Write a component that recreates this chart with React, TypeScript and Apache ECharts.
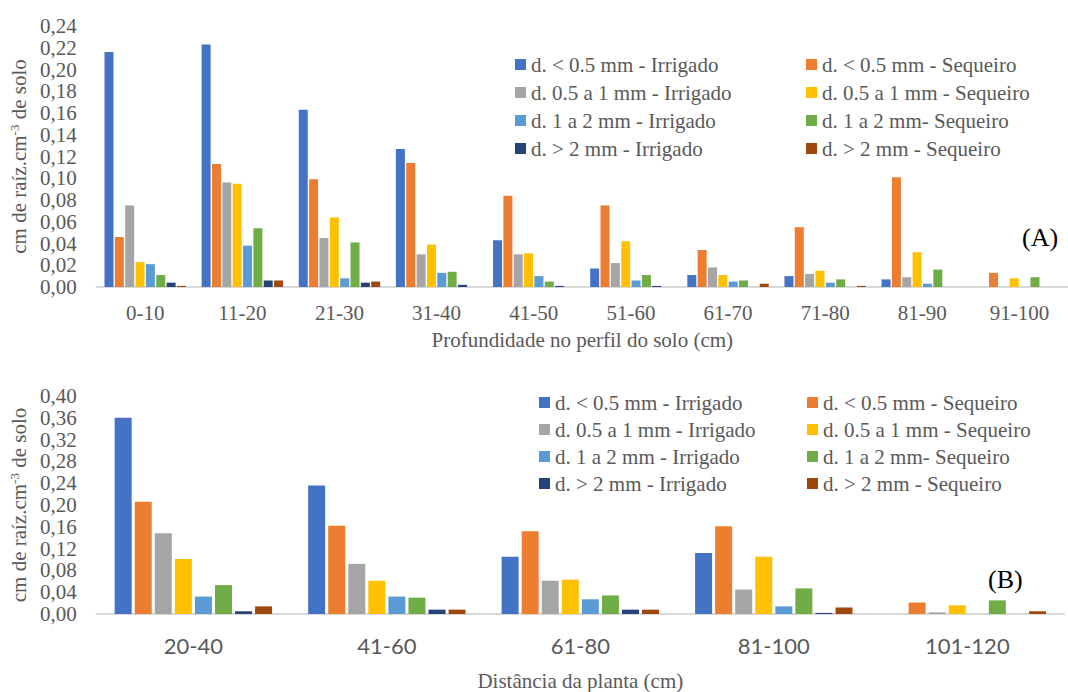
import React, { useEffect, useRef } from "react";
import * as echarts from "echarts";

const topCategories = ["0-10", "11-20", "21-30", "31-40", "41-50", "51-60", "61-70", "71-80", "81-90", "91-100"];
const bottomCategories = ["20-40", "41-60", "61-80", "81-100", "101-120"];

const seriesNames = [
  "d. < 0.5 mm - Irrigado",
  "d. < 0.5 mm - Sequeiro",
  "d. 0.5 a 1 mm - Irrigado",
  "d. 0.5 a 1 mm - Sequeiro",
  "d. 1 a 2 mm - Irrigado",
  "d. 1 a 2 mm- Sequeiro",
  "d. > 2 mm - Irrigado",
  "d. > 2 mm - Sequeiro",
];
const seriesColors = ["#4472C4", "#ED7D31", "#A5A5A5", "#FFC000", "#5B9BD5", "#70AD47", "#264478", "#9E480E"];

// Panel A: depth in soil profile
const aLt05Irr = [0.216, 0.223, 0.163, 0.127, 0.043, 0.017, 0.011, 0.010, 0.007, 0];
const aLt05Seq = [0.046, 0.113, 0.099, 0.114, 0.084, 0.075, 0.034, 0.055, 0.101, 0.013];
const a05Irr = [0.075, 0.096, 0.045, 0.030, 0.030, 0.022, 0.018, 0.012, 0.009, 0];
const a05Seq = [0.023, 0.095, 0.064, 0.039, 0.031, 0.042, 0.011, 0.015, 0.032, 0.008];
const a12Irr = [0.021, 0.038, 0.008, 0.013, 0.010, 0.006, 0.005, 0.004, 0.003, 0];
const a12Seq = [0.011, 0.054, 0.041, 0.014, 0.005, 0.011, 0.006, 0.007, 0.016, 0.009];
const aGt2Irr = [0.004, 0.006, 0.004, 0.002, 0.001, 0.001, 0, 0, 0, 0];
const aGt2Seq = [0.001, 0.006, 0.005, 0, 0, 0, 0.003, 0.001, 0, 0];

// Panel B: distance from plant
const bLt05Irr = [0.360, 0.236, 0.105, 0.112, 0];
const bLt05Seq = [0.206, 0.162, 0.152, 0.161, 0.021];
const b05Irr = [0.148, 0.092, 0.061, 0.045, 0.003];
const b05Seq = [0.101, 0.061, 0.063, 0.105, 0.016];
const b12Irr = [0.032, 0.032, 0.027, 0.014, 0];
const b12Seq = [0.053, 0.030, 0.034, 0.047, 0.025];
const bGt2Irr = [0.005, 0.008, 0.008, 0.002, 0];
const bGt2Seq = [0.014, 0.008, 0.008, 0.012, 0.005];

const aData = [aLt05Irr, aLt05Seq, a05Irr, a05Seq, a12Irr, a12Seq, aGt2Irr, aGt2Seq];
const bData = [bLt05Irr, bLt05Seq, b05Irr, b05Seq, b12Irr, b12Seq, bGt2Irr, bGt2Seq];

const SERIF = "'Liberation Serif', 'Times New Roman', serif";
const TXT = "#595959";
const fmt = (v: number) => v.toFixed(2).replace(".", ",");

export default function App() {
  const ref = useRef<HTMLDivElement>(null);
  useEffect(() => {
    if (!ref.current) return;
    const chart = echarts.init(ref.current, null, { renderer: "svg" });

    const yName = "cm de raíz.cm{sup|-3} de solo";
    const yNameStyle = {
      fontFamily: SERIF,
      fontSize: 21,
      color: TXT,
      lineHeight: 21,
      rich: {
        sup: { fontFamily: SERIF, fontSize: 13, color: TXT, lineHeight: 13, verticalAlign: "top" },
      },
    };
    const legendCommon = {
      orient: "vertical" as const,
      icon: "rect",
      itemWidth: 11,
      itemHeight: 11,
      padding: 0,
      itemGap: 7,
      textStyle: { fontFamily: SERIF, fontSize: 21, color: TXT, lineHeight: 21 },
    };

    const series: any[] = [];
    aData.forEach((d, i) =>
      series.push({
        type: "bar",
        name: seriesNames[i],
        xAxisIndex: 0,
        yAxisIndex: 0,
        data: d,
        barWidth: 9,
        barGap: "15%",
        itemStyle: { color: seriesColors[i] },
      })
    );
    bData.forEach((d, i) =>
      series.push({
        type: "bar",
        name: seriesNames[i],
        xAxisIndex: 1,
        yAxisIndex: 1,
        data: d,
        barWidth: 17,
        barGap: "18%",
        itemStyle: { color: seriesColors[i] },
      })
    );

    const axisLine = { show: true, lineStyle: { color: "#D9D9D9", width: 2 } };

    chart.setOption({
      animation: false,
      backgroundColor: "#fff",
      grid: [
        { left: 92, right: -8, top: 26, height: 261 },
        { left: 92, right: 4, top: 396, height: 219 },
      ],
      legend: [
        { ...legendCommon, left: 515, top: 54, data: [seriesNames[0], seriesNames[2], seriesNames[4], seriesNames[6]] },
        { ...legendCommon, left: 806, top: 54, data: [seriesNames[1], seriesNames[3], seriesNames[5], seriesNames[7]] },
        { ...legendCommon, left: 539, top: 392, itemGap: 6, data: [seriesNames[0], seriesNames[2], seriesNames[4], seriesNames[6]] },
        { ...legendCommon, left: 807, top: 392, itemGap: 6, data: [seriesNames[1], seriesNames[3], seriesNames[5], seriesNames[7]] },
      ],
      xAxis: [
        {
          type: "category",
          gridIndex: 0,
          data: topCategories,
          axisLine,
          axisTick: { show: false },
          axisLabel: { fontFamily: SERIF, fontSize: 21, color: TXT, margin: 15 },
          name: "Profundidade no perfil do solo (cm)",
          nameLocation: "middle",
          nameGap: 42,
          nameTextStyle: { fontFamily: SERIF, fontSize: 21, color: TXT },
        },
        {
          type: "category",
          gridIndex: 1,
          data: bottomCategories,
          axisLine,
          axisTick: { show: false },
          axisLabel: { fontFamily: "Lato, 'Open Sans', sans-serif", fontSize: 22, color: TXT, margin: 20 },
          name: "Distância da planta (cm)",
          nameLocation: "middle",
          nameGap: 56,
          nameTextStyle: { fontFamily: SERIF, fontSize: 21, color: TXT },
        },
      ],
      yAxis: [
        {
          type: "value",
          gridIndex: 0,
          min: 0,
          max: 0.24,
          interval: 0.02,
          splitLine: { show: false },
          axisLine: { show: false },
          axisTick: { show: false },
          axisLabel: { fontFamily: SERIF, fontSize: 21, color: TXT, margin: 20, formatter: fmt },
          name: yName,
          nameLocation: "middle",
          nameGap: 64,
          nameTextStyle: yNameStyle,
        },
        {
          type: "value",
          gridIndex: 1,
          min: 0,
          max: 0.4,
          interval: 0.04,
          splitLine: { show: false },
          axisLine: { show: false },
          axisTick: { show: false },
          axisLabel: { fontFamily: SERIF, fontSize: 21, color: TXT, margin: 20, formatter: fmt },
          name: yName,
          nameLocation: "middle",
          nameGap: 64,
          nameTextStyle: yNameStyle,
        },
      ],
      graphic: [
        { type: "text", left: 1022, top: 224, style: { text: "(A)", font: `26px ${SERIF}`, fill: "#000" } },
        { type: "text", left: 988, top: 566, style: { text: "(B)", font: `26px ${SERIF}`, fill: "#000" } },
      ],
      series,
    });
    return () => chart.dispose();
  }, []);
  return <div ref={ref} style={{ position: "fixed", left: 0, top: 0, width: 1068, height: 692 }} />;
}
